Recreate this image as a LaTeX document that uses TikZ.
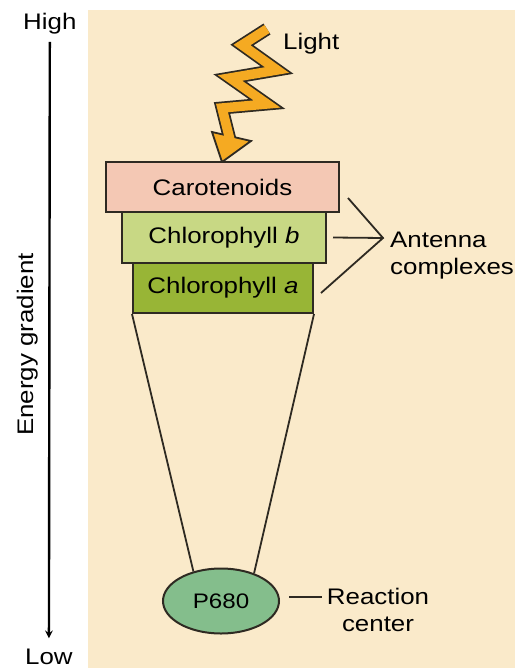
\documentclass[tikz,border=0pt]{standalone}
\usepackage{fontspec}
\setmainfont[FakeStretch=1.15]{Liberation Sans}
\usetikzlibrary{arrows,shapes.geometric}
\definecolor{cream}{HTML}{FAEACA}
\definecolor{linecol}{HTML}{2E2A22}
\definecolor{carofill}{HTML}{F4C8B4}
\definecolor{chlbfill}{HTML}{C8D884}
\definecolor{chlafill}{HTML}{98B536}
\definecolor{pfill}{HTML}{84BE8C}
\definecolor{boltorange}{HTML}{F5AA22}
\tikzset{layer/.style={draw=linecol, line width=2pt, inner sep=0}}
\begin{document}
\begin{tikzpicture}[x=1pt, y=-1pt, >=stealth, font=\fontsize{22.5}{27}\selectfont]
	\useasboundingbox (0,0) rectangle (515,668);
	\fill[cream] (88,10) rectangle (515,668);
	% energy axis
	\node (high) at (23,30) [anchor=base west, inner sep=0] {High};
	\node (low) at (25,664) [anchor=base west, inner sep=0] {Low};
	\draw[->, line width=2.4pt] ([yshift=-7pt]high.south) -- ([yshift=10pt]low.north);
	\node (energy) at (33,344.5) [rotate=90, anchor=base, inner sep=0] {Energy gradient};
	% light
	\draw[line width=13pt, linecol] (267,29) -- (242,45) -- (277,70) -- (230,78) -- (267,104) -- (222,108) -- (230,140);
	\filldraw[fill=boltorange, draw=linecol, line width=1.8pt] (212,132) -- (251,141) -- (222,162) -- cycle;
	\draw[line width=9.5pt, boltorange] (267,29) -- (242,45) -- (277,70) -- (230,78) -- (267,104) -- (222,108) -- (230,140);
	\node (light) at (283,50) [anchor=base west, inner sep=0] {Light};
	% pigments
	\node[layer, fill=carofill, minimum width=233pt, minimum height=50pt] (caro) at (222.5,187) {Carotenoids};
	\node[layer, fill=chlbfill, minimum width=204pt, minimum height=51pt] (chlb) at (224,237.5) {Chlorophyll \textit{b}};
	\node[layer, fill=chlafill, minimum width=180pt, minimum height=50pt] (chla) at (223,288) {Chlorophyll \textit{a}};
	\node[draw=linecol, line width=2pt, ellipse, fill=pfill, minimum width=116pt, minimum height=65pt, inner sep=0, font=\fontsize{21}{25}\selectfont] (p680) at (221,601) {P680};
	\draw[line width=1.8pt, linecol] (chla.south west) -- (p680.133);
	\draw[line width=1.8pt, linecol] (chla.south east) -- (p680.40);
	% labels
	\node (antenna) at (390,256) [anchor=west, align=left, inner sep=0] {Antenna\\complexes};
	\coordinate (ant) at (383,238);
	\draw[line width=1.8pt, linecol] ([xshift=8pt,yshift=-11pt]caro.east) -- (ant) -- ([xshift=7pt,yshift=-5pt]chla.east);
	\draw[line width=1.8pt, linecol] ([xshift=6pt]chlb.east) -- (ant);
	\node (react) at (378,610) [align=center, inner sep=0] {Reaction\\center};
	\draw[line width=1.8pt, linecol] ([xshift=9pt,yshift=4pt]p680.east) -- ([xshift=-5pt,yshift=13pt]react.west);
\end{tikzpicture}
\end{document}
